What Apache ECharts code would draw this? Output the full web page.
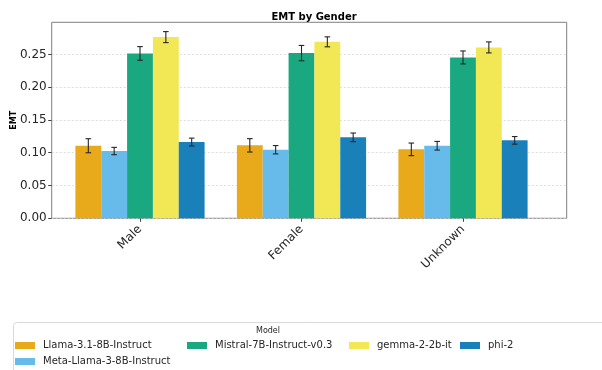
<!DOCTYPE html>
<html>
<head>
<meta charset="utf-8">
<script src="https://cdn.jsdelivr.net/npm/echarts@6/dist/echarts.min.js"></script>
<style>
  html, body { margin: 0; padding: 0; background: #fff; }
  #chart { width: 602px; height: 370px; }
</style>
</head>
<body>
<div id="chart"></div>
<script>
// EMT scores per gender group, one array per model
const categories = ['Male', 'Female', 'Unknown'];
const models = ['Llama-3.1-8B-Instruct', 'Meta-Llama-3-8B-Instruct', 'Mistral-7B-Instruct-v0.3', 'gemma-2-2b-it', 'phi-2'];
const llamaValues   = [0.1107, 0.1113, 0.1052];
const metaValues    = [0.1026, 0.1046, 0.1107];
const mistralValues = [0.2515, 0.2520, 0.2454];
const gemmaValues   = [0.2764, 0.2692, 0.2607];
const phiValues     = [0.1163, 0.1235, 0.1189];
// half-length of the error bars
const llamaErr   = [0.0107, 0.0102, 0.0096];
const metaErr    = [0.0056, 0.0064, 0.0066];
const mistralErr = [0.0104, 0.0117, 0.0099];
const gemmaErr   = [0.0084, 0.0076, 0.0084];
const phiErr     = [0.0060, 0.0066, 0.0058];
const yTicks = [0, 0.05, 0.10, 0.15, 0.20, 0.25];

const values = [llamaValues, metaValues, mistralValues, gemmaValues, phiValues];
const errors = [llamaErr, metaErr, mistralErr, gemmaErr, phiErr];
const colors = ['#E8A91A', '#67BBEB', '#1AA881', '#F2E755', '#1A80BA'];

const FONT = 'DejaVu Sans';
const Y_MAX = 0.299;
const GROUP_FRACTION = 0.8;

const chart = echarts.init(document.getElementById('chart'), null, { renderer: 'canvas' });

const barSeries = models.map((name, i) => ({
  name: name,
  type: 'bar',
  xAxisIndex: 1,
  yAxisIndex: 1,
  data: values[i],
  itemStyle: { color: colors[i] },
  barGap: '0%',
  barCategoryGap: '20%',
  emphasis: { disabled: true },
  z: 2
}));

const errorSeries = models.map((name, i) => ({
  type: 'custom',
  xAxisIndex: 1,
  yAxisIndex: 1,
  silent: true,
  z: 5,
  data: values[i].map((v, k) => [k, v, errors[i][k]]),
  renderItem: function (params, api) {
    const cat = api.value(0), v = api.value(1), e = api.value(2);
    const band = api.size([1, 0])[0];
    const bw = band * GROUP_FRACTION / models.length;
    const x = api.coord([cat, v])[0] + (i - (models.length - 1) / 2) * bw;
    const yTop = api.coord([cat, v + e])[1];
    const yBot = api.coord([cat, v - e])[1];
    const cap = 2.8;
    const style = { stroke: '#262626', lineWidth: 1.1 };
    return {
      type: 'group',
      children: [
        { type: 'line', shape: { x1: x, y1: yTop, x2: x, y2: yBot }, style: style },
        { type: 'line', shape: { x1: x - cap, y1: yTop, x2: x + cap, y2: yTop }, style: style },
        { type: 'line', shape: { x1: x - cap, y1: yBot, x2: x + cap, y2: yBot }, style: style }
      ]
    };
  }
}));

// one legend block per model so the entries sit in fixed columns
const legendSpots = [
  { left: 15, top: 339 },
  { left: 15, top: 355 },
  { left: 187, top: 339 },
  { left: 349, top: 339 },
  { left: 460, top: 339 }
];
const legends = models.map((name, i) => ({
  data: [name],
  left: legendSpots[i].left,
  top: legendSpots[i].top,
  padding: 0,
  icon: 'rect',
  itemWidth: 20,
  itemHeight: 7,
  selectedMode: false,
  textStyle: { fontFamily: FONT, fontSize: 10, color: '#262626', lineHeight: 13, padding: [0, 0, 0, 3] }
}));

chart.setOption({
  animation: false,
  backgroundColor: '#fff',
  title: {
    text: 'EMT by Gender',
    left: 309,
    top: 7,
    textAlign: 'center',
    textStyle: { fontFamily: FONT, fontSize: 10, fontWeight: 'bold', color: '#000' }
  },
  legend: legends,
  grid: [
    { left: 51.7, right: 35.3, top: 22.3, height: 196, show: true, borderColor: '#808080', borderWidth: 1, backgroundColor: 'transparent', outerBoundsMode: 'none', containLabel: false },
    { left: 59.25, width: 484.5, top: 22.3, height: 196, outerBoundsMode: 'none', containLabel: false }
  ],
  xAxis: [
    { gridIndex: 0, type: 'value', min: 0, max: 1, show: false },
    {
      gridIndex: 1,
      type: 'category',
      data: categories,
      axisLine: { show: false },
      axisTick: { show: true, alignWithLabel: true, length: 3.5, lineStyle: { color: '#444' } },
      axisLabel: { rotate: 45, margin: 9, fontFamily: FONT, fontSize: 12, color: '#262626' }
    }
  ],
  yAxis: [
    {
      gridIndex: 0,
      type: 'value',
      min: 0,
      max: Y_MAX,
      interval: 0.05,
      name: 'EMT',
      nameLocation: 'middle',
      nameRotate: 90,
      nameGap: 34,
      nameMoveOverlap: false,
      nameTextStyle: { fontFamily: FONT, fontSize: 8, fontWeight: 'bold', color: '#000' },
      axisLine: { show: false },
      axisTick: { show: true, length: 3.5, lineStyle: { color: '#444' }, customValues: yTicks },
      axisLabel: {
        margin: 5,
        fontFamily: FONT,
        fontSize: 12,
        color: '#262626',
        customValues: yTicks,
        formatter: v => v.toFixed(2)
      },
      splitLine: { show: true, lineStyle: { color: '#d4d4d4', type: [2, 2], width: 0.8 } }
    },
    { gridIndex: 1, type: 'value', min: 0, max: Y_MAX, show: false, splitLine: { show: false } }
  ],
  graphic: [
    {
      type: 'rect',
      shape: { x: 13.5, y: 322.5, width: 640, height: 70, r: 3 },
      style: { fill: '#fff', stroke: '#d9d9d9', lineWidth: 1 },
      z: -1
    },
    {
      type: 'text',
      x: 268,
      y: 331,
      style: { text: 'Model', fontFamily: FONT, fontSize: 8, fill: '#262626', align: 'center', verticalAlign: 'middle' }
    }
  ],
  series: barSeries.concat(errorSeries)
});
</script>
</body>
</html>
